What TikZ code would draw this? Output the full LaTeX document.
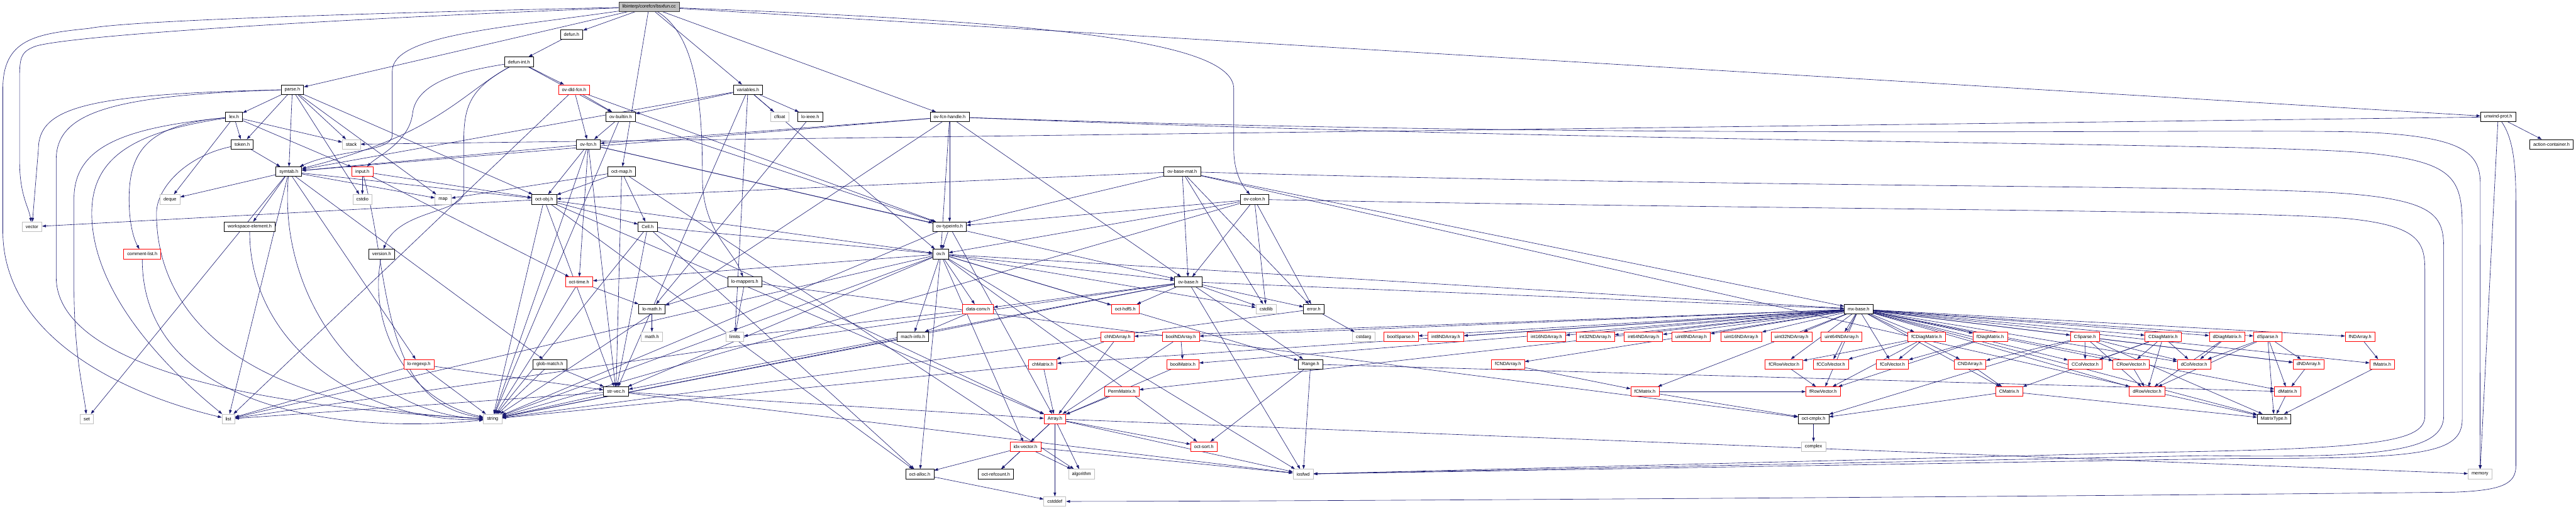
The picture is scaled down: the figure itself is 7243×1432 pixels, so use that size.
\documentclass[tikz,border=0pt]{standalone}
\usepackage{fontspec}
\setmainfont{Liberation Sans}
\usetikzlibrary{arrows.meta}
\definecolor{edgec}{HTML}{191970}
\definecolor{grayb}{HTML}{BFBFBF}
\pgfdeclarelayer{bg}
\pgfsetlayers{bg,main}
\tikzset{
  nb/.style={draw=black, line width=1.2pt, rectangle, minimum height=27pt, inner xsep=10pt, inner ysep=2pt, fill=white, font=\fontsize{13}{15}\selectfont},
  ng/.style={nb, draw=grayb},
  nr/.style={nb, draw=red},
  nroot/.style={nb, fill=grayb, draw=black!80},
  edg/.style={draw=edgec, line width=1.1pt, -{Triangle[length=11pt,width=7.5pt]}},
}
\begin{document}
\begin{tikzpicture}[x=1pt,y=-1pt]
\useasboundingbox (0,0) rectangle (7243,1432);
% row 1
\node[nroot] (root) at (1825,19) {libinterp/corefcn/bsxfun.cc};
% row 2
\node[nb] (defun) at (1607,97) {defun.h};
% row 3
\node[nb] (defunint) at (1459,174) {defun-int.h};
% row 4
\node[nb] (parse) at (822,252) {parse.h};
\node[nr] (ovdld) at (1614,252) {ov-dld-fcn.h};
\node[nb] (variables) at (2103,252) {variables.h};
% row 5
\node[nb] (lex) at (658,329) {lex.h};
\node[nb] (ovbuiltin) at (1745,329) {ov-builtin.h};
\node[ng] (cfloat) at (2192,329) {cfloat};
\node[nb] (loieee) at (2278,329) {lo-ieee.h};
\node[nb] (ofh) at (2670,329) {ov-fcn-handle.h};
\node[nb] (unwind) at (7024,329) {unwind-prot.h};
% row 6
\node[nb] (token) at (681,406) {token.h};
\node[ng] (stack) at (988,406) {stack};
\node[nb] (ovfcn) at (1654,406) {ov-fcn.h};
\node[nb] (action) at (7174,406) {action-container.h};
% row 7
\node[nb] (symtab) at (812,483) {symtab.h};
\node[nr] (input) at (1019,483) {input.h};
\node[nb] (octmap) at (1748,483) {oct-map.h};
\node[nb] (ovbasemat) at (3324,483) {ov-base-mat.h};
% row 8
\node[ng] (deque) at (478,561) {deque};
\node[ng] (cstdio) at (1019,561) {cstdio};
\node[ng] (map) at (1246,561) {map};
\node[nb] (octobj) at (1530,561) {oct-obj.h};
\node[nb] (ovcolon) at (3527,561) {ov-colon.h};
% row 9
\node[ng] (vector) at (90,638) {vector};
\node[nb] (wselem) at (702,638) {workspace-element.h};
\node[nb] (cell) at (1821,638) {Cell.h};
\node[nb] (ovtypeinfo) at (2670,638) {ov-typeinfo.h};
% row 10
\node[nr] (commentlist) at (400,715) {comment-list.h};
\node[nb] (version) at (1073,715) {version.h};
\node[nb] (ovh) at (2645,715) {ov.h};
% row 11
\node[nr] (octtime) at (1628,793) {oct-time.h};
\node[nb] (lomappers) at (2094,793) {lo-mappers.h};
\node[nb] (ovbase) at (3341,793) {ov-base.h};
% row 12
\node[nb] (lomath) at (1833,870) {lo-math.h};
\node[nr] (dataconv) at (2750,870) {data-conv.h};
\node[nr] (octhdf5) at (3164,870) {oct-hdf5.h};
\node[ng] (cstdlib) at (3560,870) {cstdlib};
\node[nb] (errorh) at (3694,870) {error.h};
\node[nb] (mxbase) at (5226,870) {mx-base.h};
% row 13
\node[ng] (mathh) at (1833,948) {math.h};
\node[ng] (limits) at (2066,948) {limits};
\node[nb] (machinfo) at (2567,948) {mach-info.h};
\node[nr] (chNDArray) at (3142,948) {chNDArray.h};
\node[nr] (boolNDArray) at (3320,948) {boolNDArray.h};
\node[ng] (cstdarg) at (3834,948) {cstdarg};
\node[nr] (boolSparse) at (3939,948) {boolSparse.h};
\node[nr] (int8) at (4065,948) {int8NDArray.h};
\node[nr] (int16) at (4348,948) {int16NDArray.h};
\node[nr] (int32) at (4485,948) {int32NDArray.h};
\node[nr] (int64) at (4621,948) {int64NDArray.h};
\node[nr] (uint8) at (4755,948) {uint8NDArray.h};
\node[nr] (uint16) at (4896,948) {uint16NDArray.h};
\node[nr] (uint32) at (5037,948) {uint32NDArray.h};
\node[nr] (uint64) at (5178,948) {uint64NDArray.h};
\node[nr] (fCDiag) at (5417,948) {fCDiagMatrix.h};
\node[nr] (fDiag) at (5596,948) {fDiagMatrix.h};
\node[nr] (CSparse) at (5862,948) {CSparse.h};
\node[nr] (CDiag) at (6082,948) {CDiagMatrix.h};
\node[nr] (dDiag) at (6262,948) {dDiagMatrix.h};
\node[nr] (dSparse) at (6376,948) {dSparse.h};
\node[nr] (fNDArray) at (6636,948) {fNDArray.h};
% row 14
\node[nr] (loregexp) at (1178,1025) {lo-regexp.h};
\node[nb] (globmatch) at (1546,1025) {glob-match.h};
\node[nr] (chMatrix) at (2932,1025) {chMatrix.h};
\node[nr] (boolMatrix) at (3326,1025) {boolMatrix.h};
\node[nb] (Range) at (3685,1025) {Range.h};
\node[nr] (fCNDArray) at (4240,1025) {fCNDArray.h};
\node[nr] (fCRowVector) at (5016,1025) {fCRowVector.h};
\node[nr] (fCColVector) at (5148,1025) {fCColVector.h};
\node[nr] (fColVector) at (5321,1025) {fColVector.h};
\node[nr] (CNDArray) at (5539,1025) {CNDArray.h};
\node[nr] (CColVector) at (5863,1025) {CColVector.h};
\node[nr] (CRowVector) at (5992,1025) {CRowVector.h};
\node[nr] (dColVector) at (6169,1025) {dColVector.h};
\node[nr] (dNDArray) at (6491,1025) {dNDArray.h};
\node[nr] (fMatrix) at (6698,1025) {fMatrix.h};
% row 15
\node[nb] (strvec) at (1732,1102) {str-vec.h};
\node[nr] (PermMatrix) at (3154,1102) {PermMatrix.h};
\node[nr] (fCMatrix) at (4625,1102) {fCMatrix.h};
\node[nr] (fRowVector) at (5126,1102) {fRowVector.h};
\node[nr] (CMatrix) at (5649,1102) {CMatrix.h};
\node[nr] (dRowVector) at (6037,1102) {dRowVector.h};
\node[nr] (dMatrix) at (6432,1102) {dMatrix.h};
% row 16
\node[ng] (set) at (244,1179) {set};
\node[ng] (list) at (642,1179) {list};
\node[ng] (string) at (1385,1179) {string};
\node[nr] (Array) at (2966,1179) {Array.h};
\node[nb] (octcmplx) at (5099,1179) {oct-cmplx.h};
\node[nb] (MatrixType) at (6394,1179) {MatrixType.h};
% row 17
\node[nr] (idxvector) at (2883,1257) {idx-vector.h};
\node[nr] (octsort) at (3385,1257) {oct-sort.h};
\node[ng] (complex) at (5099,1257) {complex};
% row 18
\node[nb] (octalloc) at (2586,1334) {oct-alloc.h};
\node[nb] (octrefcount) at (2800,1334) {oct-refcount.h};
\node[ng] (algorithm) at (3041,1334) {algorithm};
\node[ng] (iosfwd) at (3664,1334) {iosfwd};
\node[ng] (memory) at (6973,1334) {memory};
% row 19
\node[ng] (cstddef) at (2966,1411) {cstddef};

\begin{pgfonlayer}{bg}
\foreach \a/\b in {
 root/parse, root/defun, root/octmap, root/variables, root/ofh, root/unwind,
 defun/defunint, defunint/ovdld, defunint/ovbuiltin,
 ovdld/ovbuiltin, ovdld/ovfcn, ovdld/ovtypeinfo, ovdld/list,
 parse/lex, parse/token, parse/symtab, parse/stack, parse/cstdio, parse/map, parse/octobj,
 lex/token, lex/deque, lex/stack, lex/input,
 token/symtab,
 symtab/deque, symtab/wselem, symtab/set, symtab/list, symtab/map, symtab/globmatch, symtab/loregexp, symtab/octobj,
 input/cstdio, input/octtime, input/octobj,
 variables/ovbuiltin, variables/symtab, variables/cfloat, variables/loieee, variables/strvec, variables/limits, variables/ovh,
 ovbuiltin/ovfcn, ovbuiltin/ovtypeinfo, ovbuiltin/string,
 ovfcn/octtime, ovfcn/strvec, ovfcn/octobj, ovfcn/ovbase, ovfcn/ovtypeinfo, ovfcn/symtab, ovfcn/string,
 octmap/map, octmap/octobj, octmap/cell, octmap/strvec, octmap/algorithm,
 octobj/vector, octobj/string, octobj/Array, octobj/octalloc, octobj/strvec, octobj/cell, octobj/ovh,
 cell/Array, cell/octalloc, cell/strvec, cell/ovh, cell/string,
 ofh/ovfcn, ofh/ovtypeinfo, ofh/ovbase, ofh/symtab, ofh/string, ofh/ovh,
 ovbasemat/octobj, ovbasemat/ovtypeinfo, ovbasemat/ovbase, ovbasemat/cstdlib, ovbasemat/mxbase, ovbasemat/MatrixType, ovbasemat/errorh,
 ovcolon/ovtypeinfo, ovcolon/ovh, ovcolon/ovbase, ovcolon/cstdlib, ovcolon/errorh, ovcolon/string,
 ovtypeinfo/ovh, ovtypeinfo/string, ovtypeinfo/Array,
 ovh/ovbase, ovh/dataconv, ovh/machinfo, ovh/octalloc, ovh/octhdf5, ovh/idxvector, ovh/octsort, ovh/cstdlib, ovh/Range, ovh/mxbase, ovh/octtime, ovh/strvec, ovh/string, ovh/list, ovh/iosfwd,
 ovbase/dataconv, ovbase/octhdf5, ovbase/cstdlib, ovbase/Range, ovbase/mxbase, ovbase/strvec, ovbase/errorh, ovbase/iosfwd, ovbase/list, ovbase/string,
 mxbase/boolSparse, mxbase/int8, mxbase/int16, mxbase/int32, mxbase/int64, mxbase/uint8, mxbase/uint16, mxbase/uint32, mxbase/uint64,
 mxbase/fCDiag, mxbase/fDiag, mxbase/CSparse, mxbase/CDiag, mxbase/dDiag, mxbase/dSparse, mxbase/fNDArray, mxbase/fCNDArray,
 mxbase/chNDArray, mxbase/boolNDArray, mxbase/chMatrix, mxbase/boolMatrix, mxbase/PermMatrix,
 mxbase/fCRowVector, mxbase/fCColVector, mxbase/fColVector, mxbase/CNDArray, mxbase/CColVector, mxbase/CRowVector,
 mxbase/fRowVector, mxbase/CMatrix, mxbase/dRowVector, mxbase/dColVector, mxbase/dNDArray, mxbase/fMatrix, mxbase/dMatrix, mxbase/fCMatrix, mxbase/MatrixType,
 fCDiag/fCRowVector, fCDiag/fCColVector, fCDiag/fColVector, fCDiag/fRowVector,
 fDiag/fColVector, fDiag/fRowVector, fCRowVector/fRowVector,
 CSparse/CNDArray, CSparse/CColVector, CSparse/octcmplx, CSparse/MatrixType, CSparse/dRowVector, CSparse/dNDArray, CSparse/dColVector,
 CNDArray/CMatrix, CMatrix/octcmplx, CMatrix/MatrixType,
 CDiag/CColVector, CDiag/CRowVector, CDiag/dColVector, CDiag/dRowVector, CDiag/CMatrix,
 CRowVector/dRowVector, dDiag/dColVector, dDiag/dRowVector,
 dSparse/dColVector, dSparse/dNDArray, dSparse/dMatrix, dSparse/MatrixType, dSparse/dRowVector,
 dNDArray/dMatrix, dMatrix/MatrixType, fNDArray/fMatrix, fMatrix/MatrixType,
 fCNDArray/fCMatrix, fCMatrix/octcmplx, fCMatrix/fRowVector, octcmplx/complex,
 chNDArray/chMatrix, chNDArray/Array, boolNDArray/boolMatrix, boolNDArray/Array,
 chMatrix/Array, chMatrix/string, boolMatrix/Array, PermMatrix/Array,
 Array/idxvector, Array/octsort, Array/octrefcount, Array/algorithm, Array/cstddef, Array/iosfwd, Array/memory,
 idxvector/octalloc, idxvector/octrefcount, idxvector/algorithm, idxvector/iosfwd,
 octalloc/cstddef,
 lomappers/lomath, lomappers/limits, lomappers/octcmplx,
 lomath/mathh, octtime/lomath, octtime/string, loieee/lomath,
 globmatch/string, globmatch/strvec,
 loregexp/list, loregexp/string, loregexp/strvec,
 strvec/string, strvec/list, strvec/Array, strvec/iosfwd,
 errorh/cstdarg, errorh/string,
 Range/iosfwd, Range/octsort, Range/dMatrix,
 dataconv/machinfo, dataconv/limits, machinfo/string,
 unwind/stack, unwind/action, unwind/memory}
 { \draw[edg] (\a) -- (\b); }
% routed edges
\draw[edg] (root) .. controls (900,40) and (350,60) .. (250,80) .. controls (100,95) and (8,110) .. (8,250) -- (8,650) .. controls (8,950) and (350,1110) .. (list);
\draw[edg] (root) .. controls (900,55) and (200,100) .. (100,130) .. controls (60,145) and (55,160) .. (55,220) -- (55,450) .. controls (55,550) and (80,580) .. (vector);
\draw[edg] (root) .. controls (1400,80) and (1103,100) .. (1103,200) -- (1103,380) .. controls (1103,430) and (950,420) .. (symtab);
\draw[edg] (root) .. controls (1960,100) and (1975,300) .. (1975,500) .. controls (1975,650) and (2060,700) .. (lomappers);
\draw[edg] (root) .. controls (2900,60) and (3469,110) .. (3469,250) -- (3469,420) .. controls (3469,480) and (3490,520) .. (ovcolon);
\draw[edg] (defunint) .. controls (1300,200) and (1170,230) .. (1160,320) .. controls (1150,400) and (1060,440) .. (input);
\draw[edg] (defunint) .. controls (1300,260) and (1230,380) .. (symtab);
\draw[edg] (defunint) .. controls (1320,250) and (1304,300) .. (1304,400) -- (1304,540) .. controls (1304,600) and (1120,590) .. (version);
\draw[edg] (parse) .. controls (250,265) and (108,300) .. (108,420) -- (vector);
\draw[edg] (parse) .. controls (300,268) and (158,320) .. (158,450) -- (158,780) .. controls (158,1000) and (600,1140) .. (string);
\draw[edg] (lex) .. controls (330,360) and (208,420) .. (208,560) -- (208,800) .. controls (208,1000) and (235,1100) .. (set);
\draw[edg] (lex) .. controls (380,370) and (258,440) .. (258,600) .. controls (258,850) and (520,1080) .. (list);
\draw[edg] (lex) .. controls (420,350) and (363,420) .. (363,560) .. controls (363,640) and (380,680) .. (commentlist);
\draw[edg] (token) .. controls (520,440) and (440,530) .. (440,600) .. controls (440,900) and (700,1150) .. (string);
\draw[edg] (symtab) to[out=-95,in=178] (string);
\draw[edg] (input) to[out=-75,in=172] (string);
\draw[edg] (wselem) to[out=-90,in=182] (string);
\draw[edg] (commentlist) to[out=-90,in=186] (string);
\draw[edg] (version) to[out=-100,in=168] (string);
\draw[edg] (ofh) .. controls (4600,395) and (6300,360) .. (6650,372) .. controls (6930,385) and (6974,430) .. (6974,520) -- (memory);
\draw[edg] (ofh) .. controls (4600,405) and (6300,400) .. (6650,430) .. controls (6900,455) and (6923,500) .. (6923,640) -- (6923,1180) .. controls (6923,1280) and (6800,1290) .. (6300,1290) -- (iosfwd);
\draw[edg] (ovbasemat) .. controls (5000,530) and (6300,520) .. (6600,545) .. controls (6850,565) and (6871,610) .. (6871,700) -- (6871,1170) .. controls (6871,1270) and (6700,1290) .. (6200,1282) -- (iosfwd);
\draw[edg] (ovcolon) .. controls (5000,590) and (6300,590) .. (6600,615) .. controls (6800,635) and (6818,680) .. (6818,760) -- (6818,1170) .. controls (6818,1240) and (6700,1262) .. (6100,1272) -- (iosfwd);
\draw[edg] (unwind) .. controls (7074,400) and (7074,500) .. (7074,600) -- (7074,1310) .. controls (7074,1360) and (7040,1380) .. (6900,1385) .. controls (5500,1400) and (3500,1411) .. (cstddef);
\end{pgfonlayer}
\end{tikzpicture}
\end{document}
